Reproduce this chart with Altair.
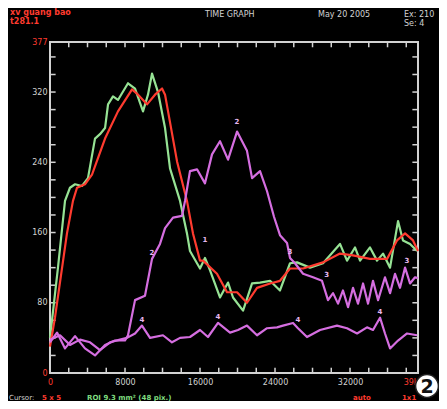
import altair as alt
import pandas as pd

# ---------------- data ----------------
green_x = [0, 850, 1600, 2130, 2670, 3410, 4050, 4800, 5330, 5870, 6190, 6720, 7250, 8320, 9070,
           9920, 10450, 10880, 11520, 12270, 12800, 13870, 14610, 14930, 16000, 16530, 17070, 18130,
           18990, 19520, 20590, 21550, 22400, 23470, 24530, 25600, 26350, 27730, 29120, 29870, 30930,
           31680, 32530, 33070, 34130, 34880, 35520, 36270, 37120, 37650, 38400, 39150]
green_y = [40, 120, 196, 211, 215, 213, 222, 267, 272, 279, 306, 315, 311, 330, 324,
           298, 317, 341, 320, 279, 233, 196, 159, 139, 119, 131, 117, 86,
           103, 86, 71, 102, 103, 105, 94, 125, 126, 120, 125, 134, 147,
           128, 143, 128, 143, 128, 136, 120, 173, 151, 147, 139]

red_x = [0, 530, 1810, 2450, 2880, 3730, 4480, 5870, 7250, 8750, 9390, 10350, 11200, 11950, 12270,
         13550, 14610, 15250, 16000, 16320, 17810, 18880, 19950, 21010, 22080, 23470, 24530, 25600,
         26990, 29120, 30930, 32320, 34130, 35950, 37010, 37870, 38720, 39250]
red_y = [30, 63, 159, 196, 211, 215, 226, 267, 298, 323, 317, 306, 317, 324, 317,
         241, 196, 159, 128, 128, 113, 92, 92, 80, 97, 102, 105, 119,
         119, 126, 136, 134, 130, 130, 151, 159, 151, 139]

mag2_x = [0, 750, 1600, 2670, 3730, 4800, 5870, 6930, 8000, 8320, 9070, 10130, 10880, 11730, 12270,
          13120, 14080, 14400, 14930, 15680, 16530, 17280, 18130, 18990, 19950, 21010, 21550, 22400,
          23150, 23890, 24530, 25280, 25600, 26130, 26990, 28050, 29010, 29650, 30190, 30720, 31250,
          31790, 32320, 32850, 33390, 33920, 34450, 34990, 35730, 36270, 36800, 37330, 37870, 38400,
          38930, 39250]
mag2_y = [35, 46, 28, 42, 28, 20, 32, 37, 37, 43, 83, 88, 130, 147, 165,
          177, 179, 196, 230, 232, 216, 249, 264, 243, 275, 253, 222, 230,
          207, 178, 157, 148, 131, 125, 113, 109, 105, 83, 91, 79, 94,
          75, 97, 79, 102, 79, 105, 83, 109, 91, 113, 97, 120, 102,
          109, 108]

mag4_x = [0, 1070, 2130, 3200, 4270, 5330, 6400, 7470, 8210, 9070, 9810, 10670, 12050, 13010,
          13870, 14930, 16000, 16850, 17920, 19200, 20050, 21010, 22080, 23150, 24210, 24850, 25920,
          26450, 27410, 28800, 30610, 31680, 32750, 33810, 34450, 35200, 35730, 36270, 37120, 38080,
          39150]
mag4_y = [38, 43, 32, 38, 35, 26, 35, 38, 40, 45, 54, 40, 43, 35,
          40, 41, 49, 41, 57, 46, 49, 54, 43, 51, 52, 54, 57,
          51, 41, 49, 54, 51, 45, 52, 49, 63, 45, 28, 37, 45,
          43]

series_names = ["1", "0", "2", "4"]
series_colors = ["#96e294", "#ff3b2f", "#d56ee0", "#d56ee0"]

# little curve numbers printed next to some points
mark_x = [10880, 16530, 19950, 17920, 9810, 26450, 35200, 38080, 25600, 29500]
mark_y = [137, 152, 286, 64, 60, 60, 70, 128, 138, 112]
mark_t = ["2", "1", "2", "4", "4", "4", "4", "3", "3", "3"]

y_labels = [0, 40, 80, 120, 160, 200, 240, 280, 320, 360, 377]
x_labels = [0, 8000, 16000, 24000, 32000, 39250]
x_last_text = "39k"
x_minor = list(range(2000, 39000, 2000))
y_minor = list(range(20, 377, 20))

X_MAX = 39250
Y_MAX = 377

# ---------------- build tables ----------------
rows = []
for name, xs, ys in [("1", green_x, green_y), ("0", red_x, red_y),
                     ("2", mag2_x, mag2_y), ("4", mag4_x, mag4_y)]:
    for i, (a, b) in enumerate(zip(xs, ys)):
        rows.append({"s": name, "t": a, "v": b, "i": i})
df = pd.DataFrame(rows)

xs = alt.Scale(domain=[0, X_MAX], nice=False, zero=False)
ys = alt.Scale(domain=[0, Y_MAX], nice=False, zero=False)

GRAY = "#d2d2d2"
RED = "#ff3b2f"
FONT = "DejaVu Sans"

base_axes = alt.Chart(pd.DataFrame({"t": [0], "v": [0]})).mark_point(opacity=0).encode(
    x=alt.X("t:Q", scale=xs, axis=alt.Axis(
        values=x_labels, format="d", title=None, ticks=False, domain=False, grid=False,
        labelFontSize=8, labelFont=FONT, labelPadding=5,
        labelExpr=f"datum.value == {X_MAX} ? '{x_last_text}' : datum.label",
        labelColor=alt.condition(f"datum.value == 0 || datum.value == {X_MAX}",
                                 alt.value(RED), alt.value(GRAY)),
        labelAlign=alt.condition(f"datum.value == {X_MAX}", alt.value("right"), alt.value("center")))),
    y=alt.Y("v:Q", scale=ys, axis=alt.Axis(
        values=y_labels, title=None, ticks=False, domain=False, grid=False,
        labelFontSize=8, labelFont=FONT, labelPadding=3,
        labelColor=alt.condition(f"datum.value == 0 || datum.value == {Y_MAX}",
                                 alt.value(RED), alt.value(GRAY)))),
)

# inner ticks on all four sides
xt = pd.DataFrame({"t": x_minor})
yt = pd.DataFrame({"v": y_minor})
tick_bot = alt.Chart(xt).mark_rule(color=GRAY, strokeWidth=1.5).encode(
    x=alt.X("t:Q", scale=xs), y=alt.datum(0, scale=ys), y2=alt.datum(6))
tick_top = alt.Chart(xt).mark_rule(color=GRAY, strokeWidth=1.5).encode(
    x=alt.X("t:Q", scale=xs), y=alt.datum(Y_MAX), y2=alt.datum(Y_MAX - 6))
tick_left = alt.Chart(yt).mark_rule(color=GRAY, strokeWidth=1.5).encode(
    y=alt.Y("v:Q", scale=ys), x=alt.datum(0, scale=xs), x2=alt.datum(600))
tick_right = alt.Chart(yt).mark_rule(color=GRAY, strokeWidth=1.5).encode(
    y=alt.Y("v:Q", scale=ys), x=alt.datum(X_MAX), x2=alt.datum(X_MAX - 600))

lines = alt.Chart(df).mark_line(strokeWidth=2.2, strokeJoin="round").encode(
    x=alt.X("t:Q", scale=xs),
    y=alt.Y("v:Q", scale=ys),
    color=alt.Color("s:N", scale=alt.Scale(domain=series_names, range=series_colors), legend=None),
    detail="s:N",
    order="i:Q",
)

mk = pd.DataFrame({"t": mark_x, "v": mark_y, "lab": mark_t})
marks = alt.Chart(mk).mark_text(fontSize=7, font=FONT, fontWeight="bold", color="#e6b8ee").encode(
    x=alt.X("t:Q", scale=xs), y=alt.Y("v:Q", scale=ys), text="lab:N")


def label(txt, px, py, color, size=8, weight="bold", align="left", baseline="top"):
    return alt.Chart(alt.Data(values=[{}])).mark_text(
        text=txt, color=color, fontSize=size, font=FONT, fontWeight=weight,
        align=align, baseline=baseline).encode(x=alt.value(px), y=alt.value(py))


texts = [
    label("xv guang bao", -40, -33, RED),
    label("t281.1", -40, -24, RED),
    label("TIME GRAPH", 155, -31, GRAY, weight="normal"),
    label("May 20 2005", 268, -31, GRAY, weight="normal"),
    label("Ex: 210", 354, -31, GRAY, weight="normal"),
    label("Se: 4", 354, -22, GRAY, weight="normal"),
    label("Cursor:", -41, 352, GRAY, size=7, weight="normal"),
    label("5 x 5", -8, 352, RED, size=7),
    label("ROI 9.3 mm² (48 pix.)", 37, 352, "#7fdc7f", size=7),
    label("auto", 303, 352, RED, size=7),
    label("1x1", 352, 352, RED, size=7),
]

badge = alt.Chart(alt.Data(values=[{}])).mark_point(
    shape="circle", filled=True, fill="white", stroke="#222", strokeWidth=1.5, size=520, opacity=1
).encode(x=alt.value(377), y=alt.value(344))
badge_t = label("2", 377, 345, "#111", size=19, align="center", baseline="middle")

chart = alt.layer(
    base_axes, tick_bot, tick_top, tick_left, tick_right, lines, marks, *texts, badge, badge_t
).properties(
    width=368, height=331,
    autosize=alt.AutoSizeParams(type="none"),
    padding={"left": 42, "top": 34, "right": 21, "bottom": 28},
    background="black",
).configure_view(stroke=GRAY, strokeWidth=2)

chart.save("out.html", embed_options={"renderer": "svg", "actions": False})
